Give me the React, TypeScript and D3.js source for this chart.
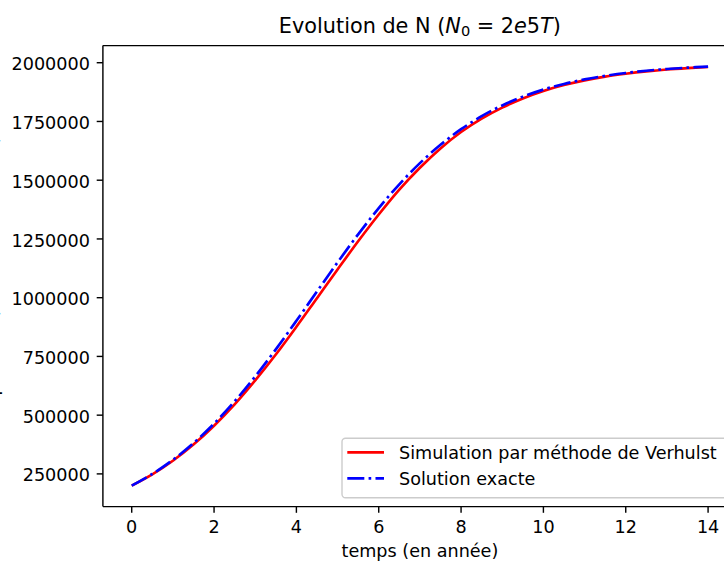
import React from "react";
import * as d3 from "d3";

// Time (years)
const years = [0, 0.5, 1, 1.5, 2, 2.5, 3, 3.5, 4, 4.5, 5, 5.5, 6, 6.5, 7, 7.5, 8, 8.5, 9, 9.5, 10, 10.5, 11, 11.5, 12, 12.5, 13, 13.5, 14];
// Simulation par méthode de Verhulst (red, solid)
const simulation = [200000, 248000, 306000, 375000, 455000, 546000, 648000, 758000, 876000, 998000, 1120000, 1240000, 1354000, 1460000, 1553000, 1635000, 1705000, 1762000, 1809000, 1848000, 1880000, 1905000, 1925000, 1941000, 1953000, 1963000, 1971000, 1977000, 1982000];
// Solution exacte (blue, dash-dot)
const exacte = [200000, 249700, 309600, 380900, 463900, 558900, 664900, 780100, 901700, 1026400, 1150200, 1269600, 1381100, 1482600, 1572600, 1650600, 1717000, 1772400, 1818200, 1855500, 1885700, 1909800, 1929000, 1944300, 1956400, 1965800, 1973300, 1979100, 1983700];

const xTicks = [0, 2, 4, 6, 8, 10, 12, 14];
const yTicks = [250000, 500000, 750000, 1000000, 1250000, 1500000, 1750000, 2000000];

const titleText = "Evolution de N (";
const xLabel = "temps (en année)";
const yLabel = "Population (nombre d'individus)";
const legendLabels = ["Simulation par méthode de Verhulst", "Solution exacte"];

const W = 724;
const H = 561;
const left = 102.9;
const right = 736.9;
const top = 45.6;
const bottom = 506.6;
const FONT = "'DejaVu Sans', sans-serif";
const FS = 17.6;

export default function App() {
  const xExt = d3.extent(years) as [number, number];
  const xPad = (xExt[1] - xExt[0]) * 0.05;
  const x = d3.scaleLinear().domain([xExt[0] - xPad, xExt[1] + xPad]).range([left, right]);
  const allY = simulation.concat(exacte);
  const yExt = d3.extent(allY) as [number, number];
  const yPad = (yExt[1] - yExt[0]) * 0.05;
  const y = d3.scaleLinear().domain([yExt[0] - yPad, yExt[1] + yPad]).range([bottom, top]);

  const line = d3
    .line<number>()
    .x((_, i) => x(years[i]))
    .y((d) => y(d))
    .curve(d3.curveCatmullRom.alpha(0.5));

  const lw = 2.66;
  const dash = `${6.4 * lw} ${1.6 * lw} ${1 * lw} ${1.6 * lw}`;
  const axisColor = "#000";
  const tickLen = 6.2;
  const spineW = 1.42;

  return (
    <svg
      width={W}
      height={H}
      style={{ position: "fixed", left: 0, top: 0, background: "#fff" }}
      fontFamily={FONT}
    >
      <rect x={0} y={0} width={W} height={H} fill="#fff" />
      <defs>
        <clipPath id="plotclip">
          <rect x={left} y={top} width={right - left} height={bottom - top} />
        </clipPath>
      </defs>

      {/* Title */}
      <text x={(left + right) / 2} y={32.5} textAnchor="middle" fontSize={20.8} fill="#000">
        <tspan>{titleText}</tspan>
        <tspan fontStyle="italic">N</tspan>
        <tspan fontSize={14.6} dy={3.6}>0</tspan>
        <tspan dy={-3.6}> = 2</tspan>
        <tspan fontStyle="italic">e</tspan>
        <tspan>5</tspan>
        <tspan fontStyle="italic">T</tspan>
        <tspan>)</tspan>
      </text>

      {/* Lines */}
      <g clipPath="url(#plotclip)">
        <path d={line(simulation) || ""} fill="none" stroke="#ff0000" strokeWidth={lw} />
        <path
          d={line(exacte) || ""}
          fill="none"
          stroke="#0000ff"
          strokeWidth={lw}
          strokeDasharray={dash}
        />
      </g>

      {/* Spines */}
      <line x1={left} x2={left} y1={top} y2={bottom} stroke={axisColor} strokeWidth={spineW} />
      <line x1={left} x2={right} y1={bottom} y2={bottom} stroke={axisColor} strokeWidth={spineW} />
      <line x1={left} x2={right} y1={top} y2={top} stroke={axisColor} strokeWidth={spineW} />
      <line x1={right} x2={right} y1={top} y2={bottom} stroke={axisColor} strokeWidth={spineW} />

      {/* X ticks */}
      {xTicks.map((t) => (
        <g key={"x" + t}>
          <line x1={x(t)} x2={x(t)} y1={bottom} y2={bottom + tickLen} stroke={axisColor} strokeWidth={spineW} />
          <text x={x(t)} y={bottom + 26} textAnchor="middle" fontSize={FS} fill="#000">
            {t}
          </text>
        </g>
      ))}

      {/* Y ticks */}
      {yTicks.map((t) => (
        <g key={"y" + t}>
          <line x1={left - tickLen} x2={left} y1={y(t)} y2={y(t)} stroke={axisColor} strokeWidth={spineW} />
          <text x={left - tickLen - 6.8} y={y(t) + 7.6} textAnchor="end" fontSize={FS} fill="#000">
            {t}
          </text>
        </g>
      ))}

      {/* Axis labels */}
      <text x={(left + right) / 2} y={556.5} textAnchor="middle" fontSize={FS} fill="#000">
        {xLabel}
      </text>
      <text
        transform={`translate(-2.5, ${(top + bottom) / 2}) rotate(-90)`}
        textAnchor="middle"
        fontSize={FS}
        fill="#000"
      >
        {yLabel}
      </text>

      {/* Legend */}
      <g>
        <rect
          x={342}
          y={438.3}
          width={390}
          height={59.5}
          rx={3.5}
          ry={3.5}
          fill="#fff"
          fillOpacity={0.8}
          stroke="#cccccc"
          strokeWidth={1.4}
        />
        <line x1={347.3} x2={384} y1={452.3} y2={452.3} stroke="#ff0000" strokeWidth={lw} />
        <text x={399} y={458.5} fontSize={FS} fill="#000">
          {legendLabels[0]}
        </text>
        <line
          x1={347.3}
          x2={384}
          y1={478.3}
          y2={478.3}
          stroke="#0000ff"
          strokeWidth={lw}
          strokeDasharray={dash}
        />
        <text x={399} y={485} fontSize={FS} fill="#000">
          {legendLabels[1]}
        </text>
      </g>
    </svg>
  );
}
